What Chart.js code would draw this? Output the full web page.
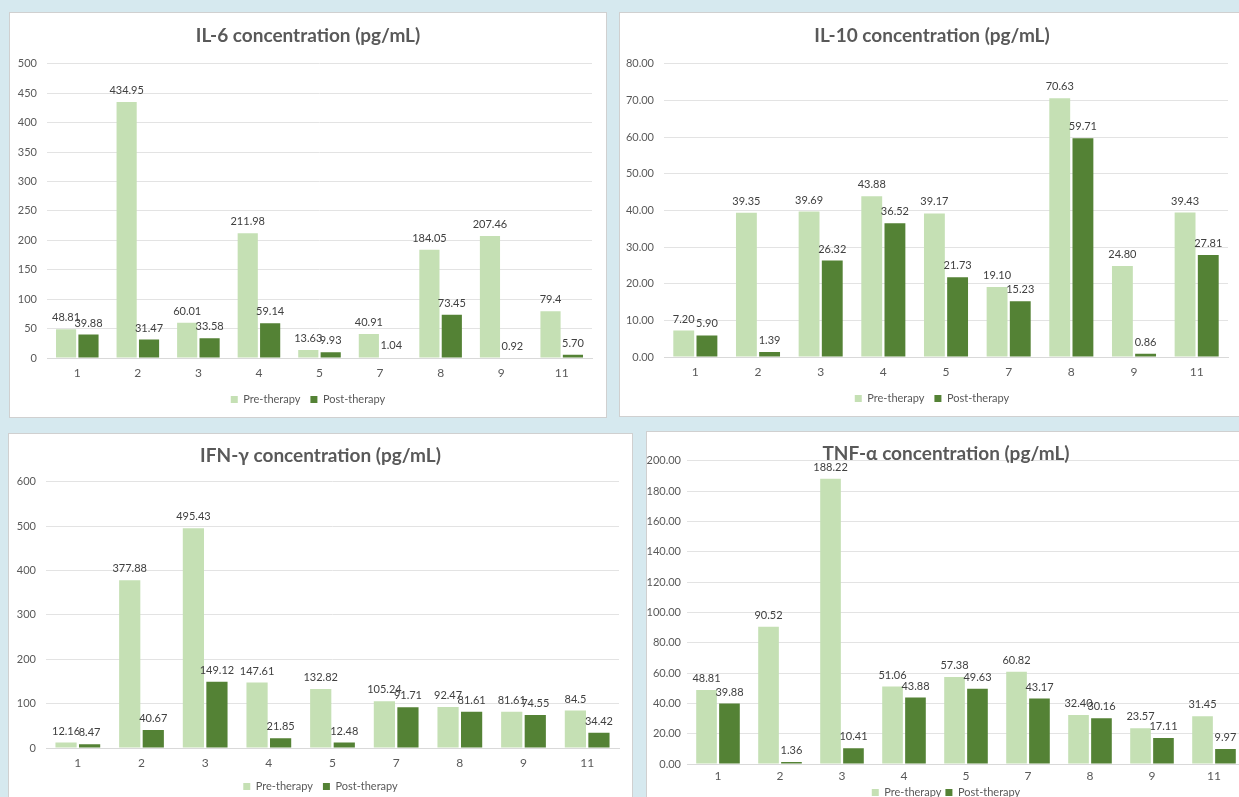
<!DOCTYPE html>
<html>
<head>
<meta charset="utf-8">
<script src="https://cdn.jsdelivr.net/npm/chart.js@4.4.0/dist/chart.umd.min.js"></script>
<style>
  body { margin: 0; background: #d6e9ef; width: 1239px; height: 797px; overflow: hidden; position: relative; }
  .panel { position: absolute; background: #fff; border: 1px solid #d0d0d0; }
</style>
</head>
<body>
<div class="panel" style="left:9px;top:12px;width:596px;height:404px"><canvas id="il6"></canvas></div>
<div class="panel" style="left:619px;top:12px;width:624px;height:403px"><canvas id="il10"></canvas></div>
<div class="panel" style="left:8px;top:433px;width:623px;height:378px"><canvas id="ifn"></canvas></div>
<div class="panel" style="left:646px;top:431px;width:598px;height:376px"><canvas id="tnf"></canvas></div>
<script>
  const patients = ['1', '2', '3', '4', '5', '7', '8', '9', '11'];

  // values kept as written on the chart labels
  const il6Pre = ['48.81', '434.95', '60.01', '211.98', '13.63', '40.91', '184.05', '207.46', '79.4'];
  const il6Post = ['39.88', '31.47', '33.58', '59.14', '9.93', '1.04', '73.45', '0.92', '5.70'];

  const il10Pre = ['7.20', '39.35', '39.69', '43.88', '39.17', '19.10', '70.63', '24.80', '39.43'];
  const il10Post = ['5.90', '1.39', '26.32', '36.52', '21.73', '15.23', '59.71', '0.86', '27.81'];

  const ifnPre = ['12.16', '377.88', '495.43', '147.61', '132.82', '105.24', '92.47', '81.61', '84.5'];
  const ifnPost = ['8.47', '40.67', '149.12', '21.85', '12.48', '91.71', '81.61', '74.55', '34.42'];

  const tnfPre = ['48.81', '90.52', '188.22', '51.06', '57.38', '60.82', '32.40', '23.57', '31.45'];
  const tnfPost = ['39.88', '1.36', '10.41', '43.88', '49.63', '43.17', '30.16', '17.11', '9.97'];

  const preColor = '#c5e0b4';
  const postColor = '#548235';
  const textColor = '#595959';
  const font = 'Lato, "Open Sans", sans-serif';

  // draws the value above each bar
  const valueLabels = {
    id: 'valueLabels',
    afterDatasetsDraw(chart) {
      const c = chart.ctx;
      c.save();
      c.font = '11px ' + font;
      c.fillStyle = '#404040';
      c.textAlign = 'center';
      c.textBaseline = 'bottom';
      chart.data.datasets.forEach((ds, i) => {
        chart.getDatasetMeta(i).data.forEach((bar, j) => {
          c.fillText(ds.data[j], bar.x, bar.y - 6);
        });
      });
      c.restore();
    }
  };

  function makeChart(id, title, pre, post, max, step, decimals, opts) {
    new Chart(document.getElementById(id), {
      type: 'bar',
      data: {
        labels: patients,
        datasets: [
          { label: 'Pre-therapy', data: pre, backgroundColor: preColor },
          { label: 'Post-therapy', data: post, backgroundColor: postColor }
        ]
      },
      options: {
        responsive: true,
        maintainAspectRatio: false,
        animation: false,
        categoryPercentage: 0.74,
        barPercentage: 0.9,
        layout: { padding: { left: 0, right: 0, top: 0, bottom: opts.bottom } },
        plugins: {
          title: {
            display: true,
            text: title,
            color: textColor,
            font: { family: font, size: 19, weight: 'bold' },
            padding: opts.titlePad
          },
          legend: {
            position: 'bottom',
            labels: {
              color: textColor,
              font: { family: font, size: 11 },
              boxWidth: 7,
              boxHeight: 7,
              padding: opts.legendPad
            }
          },
          tooltip: { enabled: false }
        },
        scales: {
          x: {
            grid: { display: false, drawTicks: false },
            border: { color: '#d9d9d9' },
            ticks: { color: textColor, font: { family: font, size: 12 }, padding: opts.xPad },
            afterFit(scale) { scale.height = opts.xHeight; }
          },
          y: {
            min: 0,
            max: max,
            border: { display: false },
            grid: { color: '#e3e3e3', drawTicks: false },
            ticks: {
              stepSize: step,
              color: textColor,
              font: { family: font, size: 11 },
              padding: opts.yPad,
              callback: v => v.toFixed(decimals)
            },
            afterFit(scale) { scale.width = opts.yWidth; }
          },
          // empty axis on the right, only keeps a margin so the title stays centred
          margin: {
            position: 'right',
            display: opts.rightGap > 0,
            grid: { display: false },
            border: { display: false },
            ticks: { display: false },
            afterFit(scale) { scale.width = opts.rightGap; }
          }
        }
      },
      plugins: [valueLabels]
    });
  }

  makeChart('il6', 'IL-6 concentration (pg/mL)', il6Pre, il6Post, 500, 50, 0, {
    bottom: 2, titlePad: { top: 11, bottom: 17 }, yWidth: 37, yPad: 10, rightGap: 14,
    xHeight: 26, xPad: 8, legendPad: 10
  });
  makeChart('il10', 'IL-10 concentration (pg/mL)', il10Pre, il10Post, 80, 10, 2, {
    bottom: 2, titlePad: { top: 11, bottom: 17 }, yWidth: 44, yPad: 10, rightGap: 16,
    xHeight: 26, xPad: 8, legendPad: 10
  });
  makeChart('ifn', 'IFN-\u03b3 concentration (pg/mL)', ifnPre, ifnPost, 600, 100, 0, {
    bottom: 10, titlePad: { top: 10, bottom: 15 }, yWidth: 37, yPad: 10, rightGap: 13,
    xHeight: 23, xPad: 8, legendPad: 10
  });
  makeChart('tnf', 'TNF-\u03b1 concentration (pg/mL)', tnfPre, tnfPost, 200, 20, 2, {
    bottom: 0, titlePad: { top: 10, bottom: -4 }, yWidth: 40, yPad: 6, rightGap: 0,
    xHeight: 19, xPad: 5, legendPad: 4
  });
</script>
</body>
</html>
